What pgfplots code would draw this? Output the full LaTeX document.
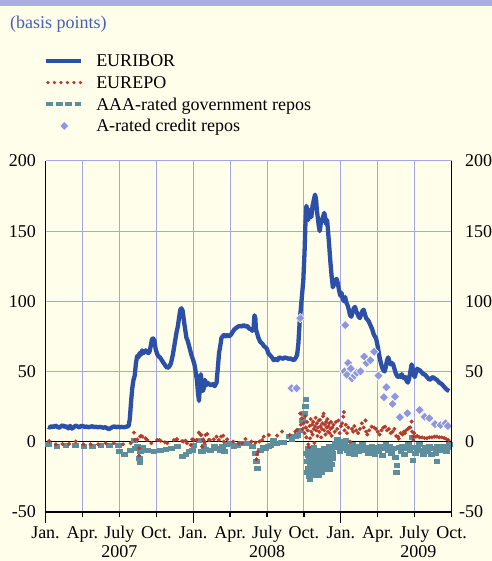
\documentclass[border=0pt]{standalone}
\usepackage{fontspec}
\setmainfont{Liberation Serif}
\usepackage{pgfplots}
\pgfplotsset{compat=1.18}
\definecolor{bg}{RGB}{255,254,234}
\definecolor{band}{RGB}{170,174,226}
\definecolor{titleblue}{RGB}{70,95,185}
\definecolor{gridc}{RGB}{162,168,230}
\definecolor{euribor}{RGB}{44,79,168}
\definecolor{eurepo}{RGB}{180,58,46}
\definecolor{aaa}{RGB}{92,142,158}
\definecolor{arated}{RGB}{142,150,222}
\newcommand{\bigfont}{\fontsize{18bp}{21.7bp}\selectfont}
\begin{document}
\begin{tikzpicture}[x=1bp,y=1bp]
\path[use as bounding box, fill=bg] (0,0) rectangle (492,561);
\fill[band] (0,555.3) rectangle (492,561);
\node[anchor=base west, inner sep=0pt, text=titleblue, font=\bigfont] at (10,532.7) {(basis points)};

\begin{axis}[
  at={(45.5bp,49.3bp)}, anchor=south west,
  scale only axis, width=406.1bp, height=350.7bp,
  xmin=0, xmax=33, ymin=-50, ymax=200,
  enlargelimits=false,
  axis x line*=bottom, axis y line*=left,
  axis line style={-, black, line width=1.2bp},
  x axis line style={line width=2bp},
  xtick={0,3,...,33},
  xticklabels={Jan.,Apr.,July,Oct.,Jan.,Apr.,July,Oct.,Jan.,Apr.,July,Oct.},
  ytick={-50,0,50,100,150,200},
  yticklabels={-50,0,50,100,150,200},
  xmajorgrids, ymajorgrids,
  grid style={gridc, line width=1bp},
  tick align=outside,
  major tick length=5bp,
  xtick style={black, line width=1.2bp},
  ytick style={draw=none},
  extra x ticks={0,12,24},
  extra x tick labels={},
  extra x tick style={major tick length=11bp, grid=none},
  tick label style={font=\bigfont, inner sep=0pt},
  yticklabel style={anchor=east, xshift=-4.5bp},
  xticklabel style={anchor=base, yshift=-21.6bp},
  legend style={at={(-0.0037,1.3091)}, anchor=north west, draw=none, fill=none,
    inner sep=0pt, outer sep=0pt, row sep=5.1bp, column sep=0pt, font=\bigfont,
    nodes={inner sep=0pt, text height=14.1bp, text depth=2.5bp}},
  legend cell align=left,
]
\addlegendimage{draw=none, fill=none, legend image code/.code={\path[draw=euribor, line width=4.5bp] (0bp,0bp) -- (35bp,0bp); \path[draw=none, fill=none] (0bp,0bp) -- (50bp,0bp);}}
\addlegendimage{draw=none, fill=none, legend image code/.code={\foreach \xx in {1.7,8.2,14.7,21.2,27.7,34.2}{\path[fill=eurepo, draw=none] (\xx bp,0bp) circle (1.8bp);} \path[draw=none, fill=none] (0bp,0bp) -- (50bp,0bp);}}
\addlegendimage{draw=none, fill=none, legend image code/.code={\path[draw=aaa, line width=3.6bp, dash pattern=on 7bp off 2.5bp] (0bp,0bp) -- (35bp,0bp); \path[draw=none, fill=none] (0bp,0bp) -- (50bp,0bp);}}
\addlegendimage{draw=none, fill=none, legend image code/.code={\path[fill=arated, draw=white, line width=0.6bp] (18bp,4.5bp) -- (22.5bp,0bp) -- (18bp,-4.5bp) -- (13.5bp,0bp) -- cycle; \path[draw=none, fill=none] (0bp,0bp) -- (50bp,0bp);}}
\legend{EURIBOR, EUREPO, AAA-rated government repos, A-rated credit repos}

\draw[black, line width=1bp] (axis cs:0,0) -- (axis cs:33,0);

% AAA-rated government repos
\addplot[only marks, mark=square*, mark size=2bp, color=aaa, mark options={xscale=1.4, draw=none}, forget plot] coordinates {
(0.2,-2)(0.9,-3)(1.65,-2.6)(2.4,-2.4)(3.1,-3)(3.8,-3)(4.5,-2.6)(5.2,-2.8)(5.9,-2.5)
(6.0,-7.2)(6.4,-8.8)(6.9,-6)(7.2,1.1)(7.3,-5)(7.46,-3.6)(7.6,-12)(7.65,-15)(7.7,-7)(7.9,-4)
(8.27,-6)(8.8,-7.2)(9.3,-6.5)(9.76,-5.5)(10.2,-4.8)(10.7,-3.6)(11.1,-10.3)(11.4,-8.8)(11.65,-7.2)
(11.9,-6)(12.05,-2.4)(12.46,1.1)(12.6,-7.2)(12.73,-7.2)(12.86,-3.6)(13.0,-5.5)(13.4,-6)(13.7,-3)
(13.95,-4.8)(14.2,-6)(14.35,-3.6)(14.5,-7.2)(14.7,-2)(15.0,-1.2)(15.3,-3.6)(15.6,-2.4)(16.0,-1.5)
(16.25,-1.2)(16.5,-1.5)(16.8,-3.6)(17.06,-8.4)(17.14,-14)(17.2,-19)(17.45,-6)(17.7,-4)(17.9,-4.8)
(18.1,-3)(18.3,-2.4)(18.5,1.1)(18.8,-1)(19.1,-0.5)(19.35,-0.8)(19.76,3.5)(20.0,2)(20.3,3.5)
(20.44,4.7)(20.7,8.3)(20.84,15.4)(21.0,20)(21.1,25)(21.15,30)
(21.2,-8)(21.22,-22)(21.25,-14)(21.3,-5)(21.32,-10)(21.35,-19)(21.4,-11)(21.45,-25)(21.47,-27)(21.5,-16)
(21.52,-21)(21.55,-7)(21.6,-12)(21.62,-17)(21.65,-20)(21.7,-9)(21.72,-24)(21.75,-15)(21.8,-4)(21.85,-18)
(21.88,-14)(21.9,-11)(21.95,-22)(22.0,-13)(22.02,-19)(22.05,-7)(22.1,-17)(22.15,-10)(22.18,-24)
(22.2,-14)(22.25,-20)(22.3,-6)(22.32,-17)(22.35,-12)(22.4,-16)(22.42,-22)(22.45,-9)(22.5,-18)
(22.55,-13)(22.58,-20)(22.6,-5)(22.65,-11)(22.68,-7)(22.7,-15)(22.75,-8)(22.78,-17)(22.8,-12)
(22.85,-19)(22.9,-6)(22.92,-15)(22.95,-10)(23.0,-3)(23.05,-14)(23.08,-20)(23.1,-9)(23.15,-11)
(23.2,-5)(23.25,-16)(23.3,-12)(23.35,-8)(23.4,-3)(23.5,-1.5)(23.6,-2)(23.7,2)(23.8,-4)
(23.9,-7)(24.0,0)(24.1,-3)(24.2,-5)(24.3,-2)(24.4,1)(24.5,-6)(24.6,-3)(24.7,-8)(24.8,-4)(24.9,-2)
(25.0,-6)(25.1,-9)(25.2,-5)(25.3,-3)(25.45,-7)(25.6,-4)(25.75,-2)(25.9,-6)(26.05,-4)(26.2,-8)
(26.35,-5)(26.5,-3)(26.6,-6)(26.75,-9)(26.9,-4)(27.05,-7)(27.2,-3)(27.35,-10)(27.5,-5)(27.65,-2)
(27.8,-6)(27.95,-3)(28.1,-8)(28.25,-5)(28.4,-11)(28.5,-22)(28.55,-17)(28.7,-4)(28.85,-7)(29.0,-3)
(29.15,-9)(29.3,-5)(29.45,-2)(29.6,-6)(29.75,3)(29.85,-13)(29.9,-4)(30.05,-8)(30.2,-5)(30.35,-2)
(30.5,-6)(30.7,-9)(30.85,-4)(31.0,-7)(31.2,-3)(31.35,-9)(31.5,-5)(31.7,-8)(31.8,-14)(31.85,-3)(32.0,-6)
(32.2,-4)(32.4,-3)(32.55,-7)(32.7,-4)(32.8,-2)
};

% EUREPO
\addplot[only marks, mark=*, mark size=1.8bp, color=eurepo, mark options={draw=none}, forget plot] coordinates {
(0.3,0.4)(0.84,-2)(1.38,-1.7)(1.92,-1.7)(2.46,0)(3.08,-2)(3.67,-2)(4.27,-2)(4.89,-1.2)(5.56,-1.2)
(6.3,-2)(6.92,-1.2)(7.19,6.4)(7.27,1.1)(7.46,1.5)(7.6,-4.8)(7.6,-10)(7.68,3.5)(7.75,4)(7.87,3.5)
(8.13,2.3)(8.27,1.1)(8.6,-1.2)(9.08,1.1)(9.25,1.1)(9.35,0.6)(9.7,-0.5)(9.9,-1.2)(10.43,1.1)
(10.65,1.6)(10.7,1.5)(11.1,0.4)(11.2,0)(11.38,0.6)(11.5,-1.2)(11.8,-2.4)(11.92,1.6)(12.05,1.1)
(12.27,1.1)(12.46,6.4)(12.6,4.7)(12.65,4.7)(12.73,-3.6)(12.81,1.6)(12.86,0.4)(12.92,-0.8)(13.0,4.7)
(13.14,5.4)(13.27,1.1)(13.35,1.1)(13.68,1.6)(13.9,3.5)(14.08,1.1)(14.27,3.5)(14.44,4.2)(14.49,0)
(14.76,1.6)(15.25,0)(15.7,-1.2)(15.98,-1.2)(16.25,1.8)(16.73,0)(17.06,-0.8)(17.14,-12.6)(17.2,-9)
(17.25,-7.2)(17.38,0)(17.6,1.1)(17.73,3.5)(18.14,4.7)(18.82,4.2)(19.22,7.1)(19.84,4.7)(20.3,7.1)
(20.44,8.3)(20.7,20)(20.75,12)(20.84,16.6)(20.9,9)(20.97,13)(21.05,6)(21.1,18)(21.15,10)(21.2,3)
(21.25,14)(21.3,8)(21.35,-2)(21.4,-4)(21.45,11)(21.5,2.3)(21.55,16)(21.6,7)(21.65,12)(21.7,5)
(21.75,14)(21.8,9)(21.85,-1)(21.9,11)(21.95,17)(22.0,8)(22.05,13)(22.1,4)(22.15,10)(22.2,15)
(22.25,7)(22.3,15.4)(22.35,11)(22.4,3)(22.45,9)(22.5,13)(22.55,18)(22.6,20)(22.65,8)(22.7,12)
(22.75,5)(22.8,14)(22.85,10)(22.9,16)(22.95,7)(23.0,11)(23.05,13)(23.1,6)(23.15,9)(23.2,14)
(23.25,4)(23.3,10)(23.4,12)(23.5,7)(23.6,14)(23.7,9)(23.8,15)(23.9,6)(24.0,11)(24.1,13)(24.2,17.7)
(24.25,21)(24.3,8)(24.4,12)(24.5,6)(24.6,10)(24.76,0)(24.9,9)(25.0,7)(25.1,11)(25.25,8)(25.4,6)
(25.55,9)(25.7,13)(25.85,10)(26.0,15)(26.05,7)(26.15,5)(26.3,8)(26.5,10.6)(26.7,10)(26.85,9)
(27.0,7)(27.15,5)(27.3,8)(27.45,10)(27.6,10.6)(27.75,8)(27.9,9)(28.05,6)(28.2,7)(28.35,9)(28.5,4)
(28.65,3.5)(28.7,2)(28.85,6)(29.0,5)(29.1,7)(29.2,6)(29.3,8)(29.45,9)(29.55,10)(29.65,10)
(29.75,14.2)(29.8,7)(29.85,3.5)(29.9,1)(29.95,6)(30.1,3.5)(30.2,4)(30.4,3)(30.6,3)(30.8,2.5)
(31.0,2.3)(31.2,3)(31.4,3)(31.6,3.5)(31.8,3.5)(32.0,3)(32.2,3)(32.4,2.5)(32.6,1.6)(32.75,1)
};

% EURIBOR
\addplot[euribor, line width=4.3bp, line join=round, no marks, forget plot] coordinates {
(0.2,10.5)(0.35,10)(0.5,11)(0.65,10.2)(0.8,11.4)(0.95,10.6)(1.1,9.8)(1.25,10.8)(1.4,11.6)(1.55,10.4)
(1.7,11)(1.85,9.4)(2.0,11.2)(2.15,9.2)(2.3,10.2)(2.45,11.4)(2.6,10.8)(2.75,10)(2.9,11.2)(3.05,11)
(3.2,10.4)(3.35,10.7)(3.5,10.2)(3.65,10.6)(3.8,10.9)(3.95,10.3)(4.1,10.6)(4.25,10.1)(4.4,10.5)
(4.55,10.2)(4.7,9.9)(4.85,10.2)(5.0,9.6)(5.15,8.8)(5.3,9.6)(5.45,10.4)(5.6,10.8)(5.75,10.2)
(5.9,10.6)(6.05,10.2)(6.2,10.5)(6.35,10.1)(6.5,10.4)(6.65,10.8)
(6.75,11)(6.85,16)(6.95,28)(7.05,38)(7.15,44)(7.25,47)(7.35,56)(7.45,61)(7.55,60)(7.65,63)(7.75,62)
(7.85,65)(7.95,63)(8.05,64)(8.15,65)(8.25,64)(8.35,63)(8.45,64)(8.55,68)(8.65,73)(8.75,73.5)
(8.85,72)(8.95,66)(9.05,63)(9.15,61)(9.3,60)(9.45,58)(9.6,56)(9.75,54)(9.9,52.5)(10.0,53)(10.1,54)
(10.2,56)(10.35,62)(10.5,70)(10.65,78)(10.75,82)(10.85,88)(10.95,94)(11.05,95)(11.15,93)(11.25,86)
(11.35,80)(11.45,74)(11.55,72)(11.7,67)(11.85,62)(12.0,58)(12.1,55)(12.2,50)(12.3,44)(12.4,34)
(12.47,29)(12.55,40)(12.62,48)(12.7,42)(12.78,36)(12.86,38)(12.95,44)(13.05,40)(13.15,42)
(13.3,41)(13.45,40)(13.6,41)(13.75,39.5)(13.9,42)(14.0,52)(14.1,63)(14.2,68)(14.3,74)(14.4,75)
(14.5,76)(14.6,75)(14.75,76)(14.9,75)(15.05,76)(15.2,78)(15.35,80)(15.5,81)(15.65,82)(15.8,82.5)
(15.95,82)(16.1,83)(16.25,82)(16.4,82.5)(16.55,80.5)(16.7,80)(16.8,79)(16.9,80)(16.98,90)
(17.05,88)(17.1,80)(17.2,77)(17.3,74)(17.45,71)(17.6,70)(17.75,68)(17.9,67)(18.0,66)(18.1,63)
(18.25,61.5)(18.4,60)(18.55,58)(18.7,59)(18.85,58)(19.0,60)(19.15,59.5)(19.3,59)(19.45,60)
(19.6,59.5)(19.75,59)(19.9,59.3)(20.05,58.5)(20.2,58)(20.35,60)
(20.45,62)(20.55,70)(20.65,85)(20.75,95)(20.85,105)(20.95,115)(21.05,135)(21.12,155)(21.2,168)
(21.27,165)(21.35,158)(21.42,162)(21.5,165)(21.6,160)(21.7,168)(21.8,172)(21.9,176)(21.98,173)
(22.05,165)(22.12,160)(22.2,154)(22.28,150)(22.36,155)(22.45,158)(22.55,160)(22.65,163)
(22.72,160)(22.8,155)(22.88,158)(22.96,150)(23.05,140)(23.15,128)(23.25,118)(23.35,110)
(23.45,112)(23.55,115)(23.65,116)(23.75,113)(23.85,108)(23.95,104)(24.05,106)(24.15,102)
(24.25,100)(24.35,103)(24.45,99)(24.55,97)(24.65,94)(24.75,90)(24.85,89)(24.95,92)(25.05,95)
(25.15,96)(25.25,93)(25.35,91)(25.45,89)(25.55,88)(25.65,91)(25.75,93)(25.85,94)(25.95,91)
(26.05,88)(26.15,87)(26.25,86)(26.35,84)(26.45,82)(26.55,80)(26.65,77)(26.75,75)(26.85,74)
(26.95,70)(27.05,65)(27.15,60)(27.25,56)(27.35,53)(27.45,51)(27.55,50)(27.65,53)(27.75,58)
(27.85,60)(27.95,57)(28.05,55)(28.15,56)(28.25,55)(28.35,52)(28.45,49)(28.55,47)(28.65,46)
(28.75,47)(28.85,46)(28.95,48)(29.05,46)(29.15,45)(29.25,46)(29.35,43)(29.45,42)(29.55,45)
(29.65,50)(29.75,55)(29.82,53)(29.9,48)(30.0,46)(30.1,49)(30.2,52)(30.3,51)(30.4,51)(30.5,50)
(30.6,49)(30.7,48)(30.8,48)(30.9,47)(31.0,46)(31.1,45)(31.2,44)(31.3,44.5)(31.4,45.5)(31.5,46)
(31.6,45)(31.7,44.5)(31.8,44)(31.9,43)(32.0,42)(32.1,41.5)(32.2,41)(32.3,40)(32.4,39)(32.5,38)
(32.6,37)(32.7,36.5)(32.8,36)
};

% A-rated credit repos
\addplot[only marks, mark=square*, mark size=3.3bp, mark options={rotate=45, fill=arated, draw=white, line width=0.6bp}, forget plot] coordinates {
(20.0,38)(20.4,38)(20.7,88)(24.35,83)(24.3,50)(24.6,56)(24.5,47.5)(24.8,52)(24.9,45)(25.1,47)
(25.3,49)(25.6,50)(25.9,60.5)(26.1,56)(26.4,58)(26.7,64)(27.05,47)(27.5,31.6)(27.7,38.7)
(28.2,26.8)(28.4,32)(28.8,17.3)(29.4,20.2)(30.4,22.5)(30.8,17.7)(31.2,16.6)(31.65,12.5)
(32.1,11.8)(32.5,13)(32.7,11.1)
};

\coordinate (y2007) at (axis cs:6,-50);
\coordinate (y2008) at (axis cs:18,-50);
\coordinate (y2009) at (axis cs:30.3,-50);
\end{axis}

\begin{axis}[
  at={(45.5bp,49.3bp)}, anchor=south west,
  scale only axis, width=406.1bp, height=350.7bp,
  xmin=0, xmax=33, ymin=-50, ymax=200,
  enlargelimits=false,
  axis x line=none, axis y line*=right,
  axis line style={-, black, line width=1.2bp},
  ytick={-50,0,50,100,150,200},
  yticklabels={\llap{-}50,0,50,100,150,200},
  tick align=outside, major tick length=5bp,
  ytick style={draw=none},
  tick label style={font=\bigfont, inner sep=0pt},
  yticklabel style={anchor=west, xshift=8.4bp},
]
\addplot[draw=none, forget plot] coordinates {(0,0)};
\end{axis}

\node[anchor=base, inner sep=0pt, font=\bigfont, yshift=-46bp] at (y2007) {2007};
\node[anchor=base, inner sep=0pt, font=\bigfont, yshift=-46bp] at (y2008) {2008};
\node[anchor=base, inner sep=0pt, font=\bigfont, yshift=-46bp] at (y2009) {2009};
\end{tikzpicture}
\end{document}
